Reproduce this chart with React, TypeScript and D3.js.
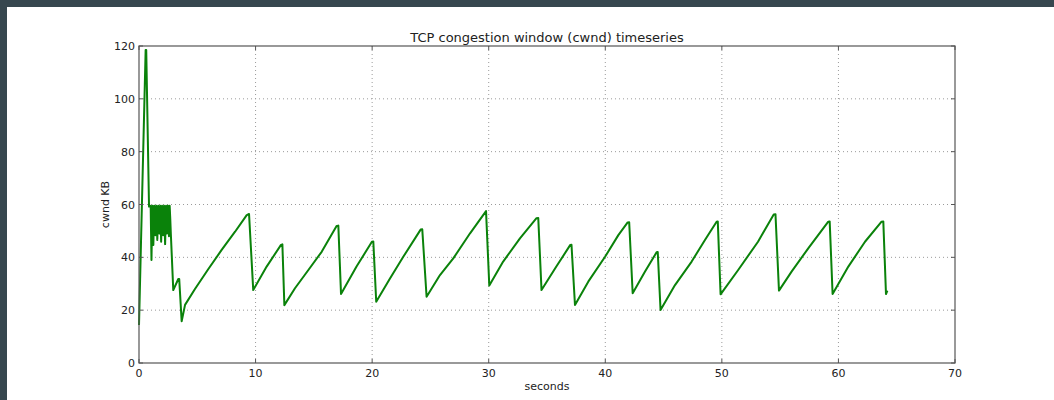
import React from "react";
import * as d3 from "d3";

const seconds: number[] = [
  0, 0.57, 0.62, 0.86, 1.0, 1.07, 1.15, 1.23, 1.31, 1.4, 1.48, 1.57, 1.65, 1.74, 1.82, 1.9, 1.98, 2.07, 2.15, 2.24, 2.32, 2.4, 2.48, 2.57, 2.63, 2.68, 2.74, 2.94, 3.37, 3.45, 3.66,
  3.95, 4.8, 5.95, 7.09, 8.24, 9.24, 9.44, 9.8,
  10.95, 12.18, 12.3, 12.47,
  13.38, 14.53, 15.67, 16.95, 17.1, 17.33,
  18.66, 19.98, 20.1, 20.35,
  21.53, 22.67, 24.16, 24.3, 24.67,
  25.82, 26.96, 28.4, 29.77, 30.05,
  31.24, 32.68, 34.1, 34.25, 34.53,
  35.8, 37.0, 37.1, 37.4,
  38.54, 39.98, 41.12, 41.92, 42.05, 42.35,
  43.41, 44.4, 44.5, 44.74,
  45.98, 47.41, 48.55, 49.55, 49.65, 49.89,
  51.4, 53.1, 54.45, 54.6, 54.9,
  55.98, 57.41, 59.13, 59.25, 59.5,
  60.85, 62.28, 63.7, 63.85, 64.08, 64.2,
];

const cwndKB: number[] = [
  14.4, 118.5, 118.5, 59.2, 59.5, 39, 59.5, 44.7, 59.5, 48.4, 59.5, 46.6, 59.5, 49, 59.5, 45.9, 59.5, 48.4, 59.5, 45, 59.5, 49, 59.5, 48, 59.5, 54.8, 48, 27.6, 31.8, 31.8, 15.8,
  22.0, 28.0, 35.6, 42.8, 49.7, 56.0, 56.4, 27.6,
  36.5, 44.7, 44.9, 21.9,
  28.3, 35.2, 42.1, 51.9, 52.0, 26.1,
  36.5, 45.9, 46.0, 23.2,
  32.0, 40.2, 50.5, 50.6, 25.1,
  33.3, 39.6, 49.1, 57.5, 29.3,
  38.4, 47.2, 54.8, 54.9, 27.6,
  36.5, 44.7, 44.8, 22.0,
  30.8, 40.2, 48.4, 53.2, 53.3, 26.4,
  34.6, 41.9, 42.0, 20.1,
  29.5, 38.4, 46.6, 53.5, 53.6, 26.0,
  35.2, 45.9, 56.2, 56.3, 27.4,
  34.6, 43.4, 53.5, 53.6, 26.1,
  36.5, 45.9, 53.5, 53.6, 26.1, 27.4,
];

const xTicks: number[] = [0, 10, 20, 30, 40, 50, 60, 70];
const yTicks: number[] = [0, 20, 40, 60, 80, 100, 120];

const W = 1054;
const H = 400;
const margin = { left: 139, top: 46, right: 955, bottom: 363 };
const font = "'DejaVu Sans', sans-serif";

export default function App() {
  const x = d3.scaleLinear().domain([0, 70]).range([margin.left, margin.right]);
  const y = d3.scaleLinear().domain([0, 120]).range([margin.bottom, margin.top]);
  const pts: [number, number][] = seconds.map((t, i) => [t, cwndKB[i]]);
  const line = d3
    .line<[number, number]>()
    .x((d) => x(d[0]))
    .y((d) => y(d[1]));
  const axisColor = "#555";
  const gridColor = "#9a9a9a";
  const tickLen = 4;
  return (
    <svg
      width={W}
      height={H}
      style={{ position: "absolute", left: 0, top: 0, display: "block" }}
    >
      <rect x={0} y={0} width={W} height={H} fill="#37474f" />
      <rect x={7} y={7} width={W - 7} height={H - 7} fill="#ffffff" />
      {/* grid */}
      {xTicks.slice(1, -1).map((t) => (
        <line
          key={"gx" + t}
          x1={x(t)}
          x2={x(t)}
          y1={margin.top}
          y2={margin.bottom}
          stroke={gridColor}
          strokeWidth={1}
          strokeDasharray="1,3"
        />
      ))}
      {yTicks.slice(1, -1).map((t) => (
        <line
          key={"gy" + t}
          x1={margin.left}
          x2={margin.right}
          y1={y(t)}
          y2={y(t)}
          stroke={gridColor}
          strokeWidth={1}
          strokeDasharray="1,3"
        />
      ))}
      {/* data */}
      <path
        d={line(pts) || ""}
        fill="none"
        stroke="#0a820a"
        strokeWidth={2}
        strokeLinejoin="round"
      />
      {/* frame */}
      <rect
        x={margin.left}
        y={margin.top}
        width={margin.right - margin.left}
        height={margin.bottom - margin.top}
        fill="none"
        stroke={axisColor}
        strokeWidth={1.2}
      />
      {/* ticks */}
      {xTicks.map((t) => (
        <g key={"xt" + t}>
          <line x1={x(t)} x2={x(t)} y1={margin.bottom} y2={margin.bottom - tickLen} stroke={axisColor} />
          <line x1={x(t)} x2={x(t)} y1={margin.top} y2={margin.top + tickLen} stroke={axisColor} />
          <text
            x={x(t)}
            y={margin.bottom + 14}
            textAnchor="middle"
            fontFamily={font}
            fontSize={11}
            fill="#222"
          >
            {t}
          </text>
        </g>
      ))}
      {yTicks.map((t) => (
        <g key={"yt" + t}>
          <line x1={margin.left} x2={margin.left + tickLen} y1={y(t)} y2={y(t)} stroke={axisColor} />
          <line x1={margin.right} x2={margin.right - tickLen} y1={y(t)} y2={y(t)} stroke={axisColor} />
          <text
            x={margin.left - 4}
            y={y(t) + 4}
            textAnchor="end"
            fontFamily={font}
            fontSize={11}
            fill="#222"
          >
            {t}
          </text>
        </g>
      ))}
      <text
        x={(margin.left + margin.right) / 2}
        y={42}
        textAnchor="middle"
        fontFamily={font}
        fontSize={13}
        fill="#222"
      >
        TCP congestion window (cwnd) timeseries
      </text>
      <text
        x={(margin.left + margin.right) / 2}
        y={390}
        textAnchor="middle"
        fontFamily={font}
        fontSize={11}
        fill="#222"
      >
        seconds
      </text>
      <text
        transform={`translate(109, ${(margin.top + margin.bottom) / 2}) rotate(-90)`}
        textAnchor="middle"
        fontFamily={font}
        fontSize={11}
        fill="#222"
      >
        cwnd KB
      </text>
    </svg>
  );
}
